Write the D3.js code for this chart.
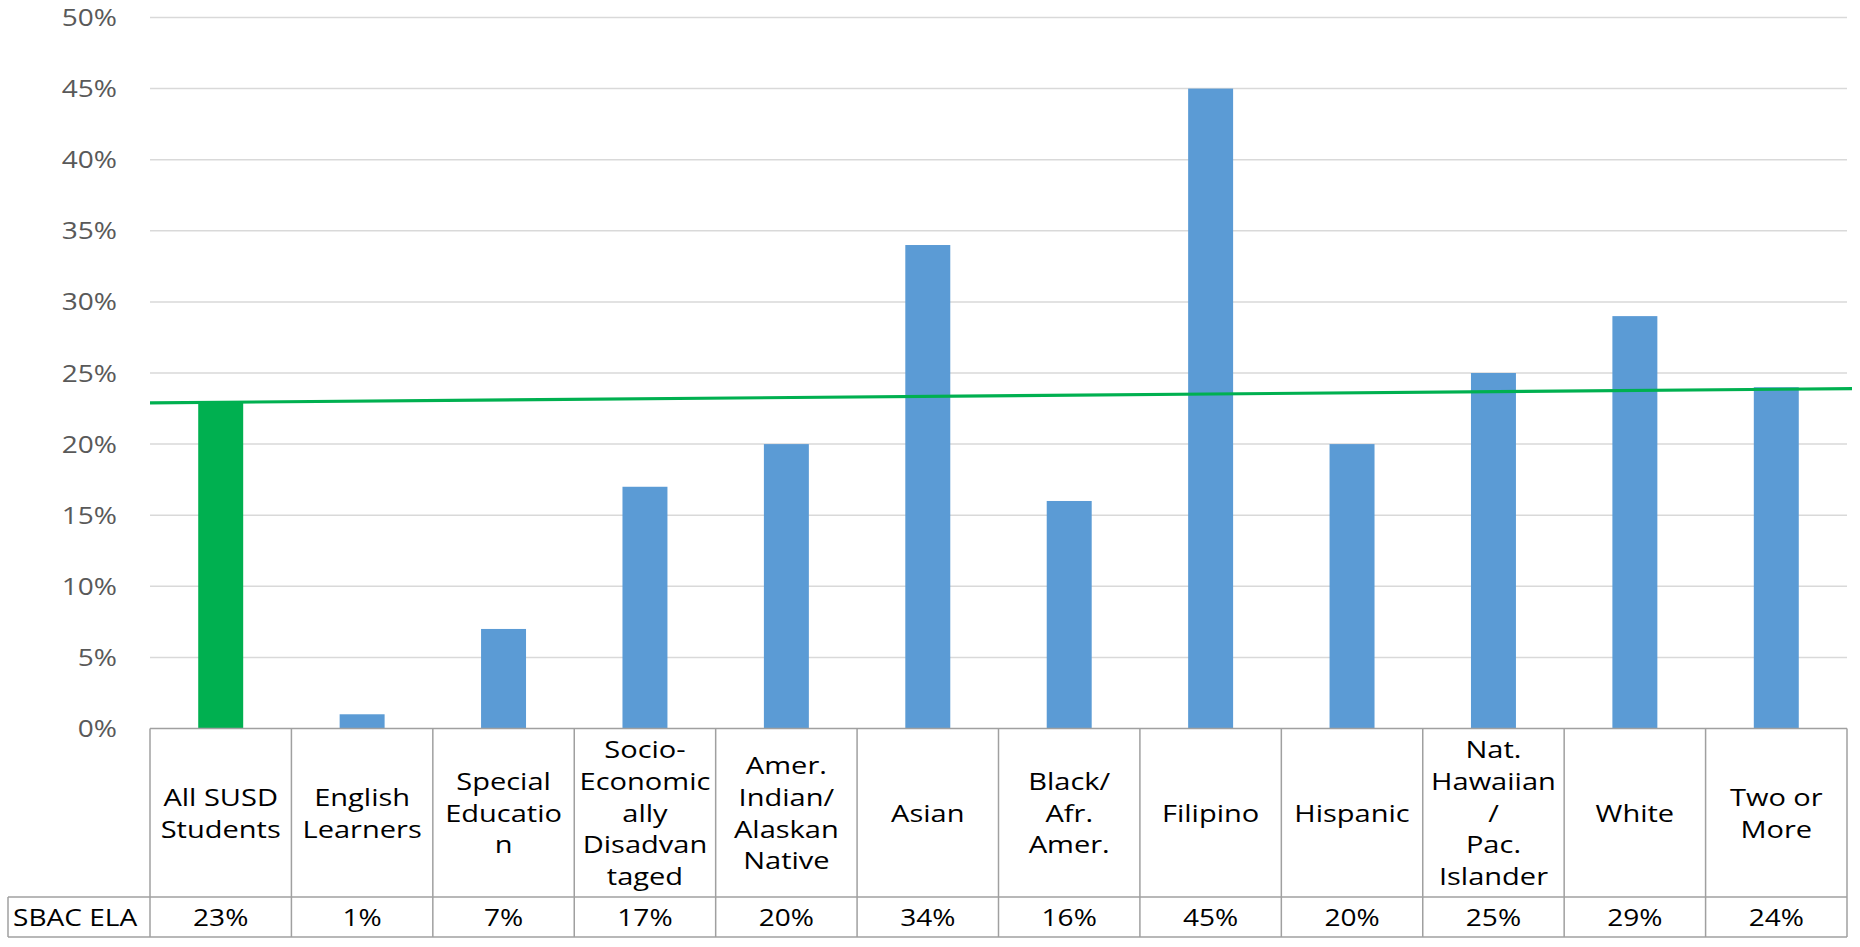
<!DOCTYPE html>
<html>
<head>
<meta charset="utf-8">
<script src="https://cdn.jsdelivr.net/npm/d3@7"></script>
<style>
  html, body { margin: 0; padding: 0; background: #ffffff; }
  svg { display: block; }
  text { font-family: "Open Sans", "Liberation Sans", sans-serif; }
</style>
</head>
<body>
<svg id="chart" width="1860" height="947"></svg>
<script>
// Student groups (header row of the data table, one array of lines per cell)
const categories = [
  ["All SUSD", "Students"],
  ["English", "Learners"],
  ["Special", "Educatio", "n"],
  ["Socio-", "Economic", "ally", "Disadvan", "taged"],
  ["Amer.", "Indian/", "Alaskan", "Native"],
  ["Asian"],
  ["Black/", "Afr.", "Amer."],
  ["Filipino"],
  ["Hispanic"],
  ["Nat.", "Hawaiian", "/", "Pac.", "Islander"],
  ["White"],
  ["Two or", "More"]
];
// SBAC ELA percent meeting standard, per group
const seriesName = "SBAC ELA";
const values = [23, 1, 7, 17, 20, 34, 16, 45, 20, 25, 29, 24];
// Benchmark line for all students (start and end value across the plot)
const benchmark = [22.9, 23.9];
// Y axis ticks
const yTicks = [0, 5, 10, 15, 20, 25, 30, 35, 40, 45, 50];

const svg = d3.select("#chart");
const plot = { left: 150, right: 1847, top: 17.5, bottom: 728.5 };
const tableBottom = 937, headerBottom = 897, rowLabelLeft = 8;
const sx = 1.22; // horizontal text stretch

const x = d3.scaleBand()
  .domain(d3.range(categories.length))
  .range([plot.left, plot.right])
  .paddingInner(0).paddingOuter(0);
const barW = x.bandwidth() * 0.318;

const y = d3.scaleLinear().domain([0, 50]).range([plot.bottom, plot.top]);

// Gridlines
svg.append("g").selectAll("line")
  .data(yTicks.filter(d => d > 0))
  .join("line")
  .attr("x1", plot.left).attr("x2", plot.right)
  .attr("y1", d => y(d)).attr("y2", d => y(d))
  .attr("stroke", "#d9d9d9").attr("stroke-width", 1.5);

// Y tick labels
svg.append("g").selectAll("text")
  .data(yTicks)
  .join("text")
  .attr("transform", d => `translate(117,${y(d)}) scale(${sx},1)`)
  .attr("text-anchor", "end")
  .attr("dominant-baseline", "central")
  .attr("font-size", 23)
  .attr("fill", "#595959")
  .text(d => d + "%");

// Bars
svg.append("g").selectAll("rect")
  .data(values)
  .join("rect")
  .attr("x", (d, i) => x(i) + x.bandwidth() / 2 - barW / 2)
  .attr("width", barW)
  .attr("y", d => y(d))
  .attr("height", d => y(0) - y(d))
  .attr("fill", (d, i) => i === 0 ? "#00b050" : "#5b9bd5");

// Benchmark line
const bx = d3.scaleLinear().domain([0, 1]).range([plot.left, plot.right + 5]);
svg.append("line")
  .attr("x1", bx(0)).attr("x2", bx(1))
  .attr("y1", y(benchmark[0])).attr("y2", y(benchmark[1]))
  .attr("stroke", "#00b050").attr("stroke-width", 3.2);

// Data table
const tbl = svg.append("g").attr("stroke", "#a0a0a0").attr("stroke-width", 1.5).attr("fill", "none");
tbl.append("line").attr("x1", plot.left).attr("x2", plot.right).attr("y1", plot.bottom).attr("y2", plot.bottom);
tbl.append("line").attr("x1", rowLabelLeft).attr("x2", plot.right).attr("y1", headerBottom).attr("y2", headerBottom);
tbl.append("line").attr("x1", rowLabelLeft).attr("x2", plot.right).attr("y1", tableBottom).attr("y2", tableBottom);
tbl.append("line").attr("x1", rowLabelLeft).attr("x2", rowLabelLeft).attr("y1", headerBottom).attr("y2", tableBottom);
tbl.selectAll("line.v")
  .data(d3.range(categories.length + 1))
  .join("line").attr("class", "v")
  .attr("x1", i => i < categories.length ? x(i) : plot.right)
  .attr("x2", i => i < categories.length ? x(i) : plot.right)
  .attr("y1", plot.bottom).attr("y2", tableBottom);

// Header cells
const lineH = 31.7;
const headerMid = (plot.bottom + headerBottom) / 2;
const heads = svg.append("g").selectAll("g")
  .data(categories)
  .join("g");
heads.each(function(lines, i) {
  const g = d3.select(this);
  const cx = x(i) + x.bandwidth() / 2;
  const top = headerMid - (lines.length - 1) * lineH / 2;
  lines.forEach((t, k) => {
    g.append("text")
      .attr("transform", `translate(${cx},${top + k * lineH}) scale(${sx},1)`)
      .attr("text-anchor", "middle")
      .attr("dominant-baseline", "central")
      .attr("font-size", 23.8)
      .attr("fill", "#000")
      .text(t);
  });
});

// Value row
const rowMid = (headerBottom + tableBottom) / 2;
svg.append("text")
  .attr("transform", `translate(13,${rowMid}) scale(${sx},1)`)
  .attr("dominant-baseline", "central")
  .attr("font-size", 23)
  .attr("fill", "#000")
  .text(seriesName);
svg.append("g").selectAll("text")
  .data(values)
  .join("text")
  .attr("transform", (d, i) => `translate(${x(i) + x.bandwidth() / 2},${rowMid}) scale(${sx},1)`)
  .attr("text-anchor", "middle")
  .attr("dominant-baseline", "central")
  .attr("font-size", 23)
  .attr("fill", "#000")
  .text(d => d + "%");
</script>
</body>
</html>
